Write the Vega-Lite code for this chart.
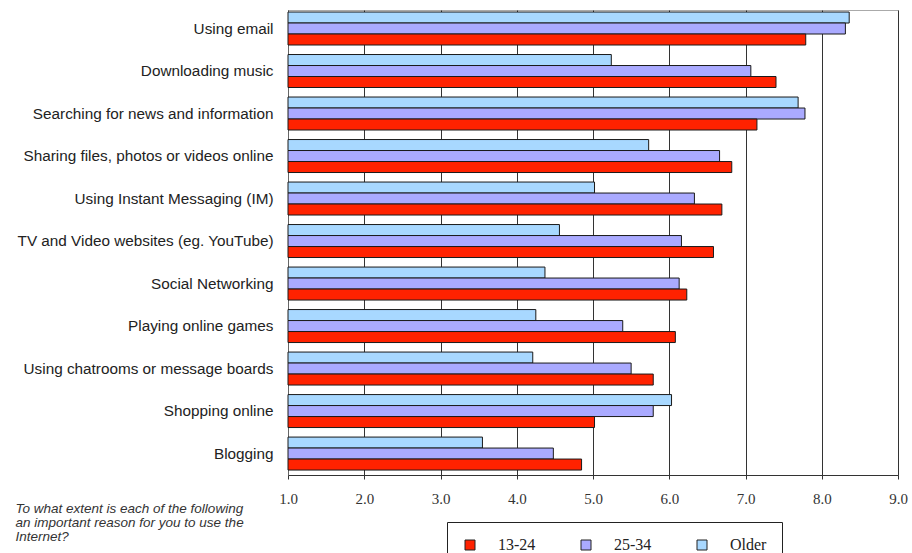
{
  "$schema": "https://vega.github.io/schema/vega-lite/v6.json",
  "width": 610,
  "height": 465,
  "autosize": "none",
  "padding": {"left": 288, "top": 10, "right": 14, "bottom": 78},
  "background": "white",
  "config": {
    "view": {"stroke": "#aaaaaa", "strokeWidth": 1},
    "font": "Liberation Sans"
  },
  "data": {
    "values": [
      {"activity": "Using email", "group": "Older", "value": 8.36},
      {"activity": "Using email", "group": "25-34", "value": 8.31},
      {"activity": "Using email", "group": "13-24", "value": 7.79},
      {"activity": "Downloading music", "group": "Older", "value": 5.24},
      {"activity": "Downloading music", "group": "25-34", "value": 7.07},
      {"activity": "Downloading music", "group": "13-24", "value": 7.40},
      {"activity": "Searching for news and information", "group": "Older", "value": 7.69},
      {"activity": "Searching for news and information", "group": "25-34", "value": 7.78},
      {"activity": "Searching for news and information", "group": "13-24", "value": 7.15},
      {"activity": "Sharing files, photos or videos online", "group": "Older", "value": 5.73},
      {"activity": "Sharing files, photos or videos online", "group": "25-34", "value": 6.66},
      {"activity": "Sharing files, photos or videos online", "group": "13-24", "value": 6.82},
      {"activity": "Using Instant Messaging (IM)", "group": "Older", "value": 5.02},
      {"activity": "Using Instant Messaging (IM)", "group": "25-34", "value": 6.33},
      {"activity": "Using Instant Messaging (IM)", "group": "13-24", "value": 6.69},
      {"activity": "TV and Video websites (eg. YouTube)", "group": "Older", "value": 4.56},
      {"activity": "TV and Video websites (eg. YouTube)", "group": "25-34", "value": 6.16},
      {"activity": "TV and Video websites (eg. YouTube)", "group": "13-24", "value": 6.58},
      {"activity": "Social Networking", "group": "Older", "value": 4.37},
      {"activity": "Social Networking", "group": "25-34", "value": 6.13},
      {"activity": "Social Networking", "group": "13-24", "value": 6.23},
      {"activity": "Playing online games", "group": "Older", "value": 4.25},
      {"activity": "Playing online games", "group": "25-34", "value": 5.39},
      {"activity": "Playing online games", "group": "13-24", "value": 6.08},
      {"activity": "Using chatrooms or message boards", "group": "Older", "value": 4.21},
      {"activity": "Using chatrooms or message boards", "group": "25-34", "value": 5.50},
      {"activity": "Using chatrooms or message boards", "group": "13-24", "value": 5.79},
      {"activity": "Shopping online", "group": "Older", "value": 6.03},
      {"activity": "Shopping online", "group": "25-34", "value": 5.79},
      {"activity": "Shopping online", "group": "13-24", "value": 5.02},
      {"activity": "Blogging", "group": "Older", "value": 3.55},
      {"activity": "Blogging", "group": "25-34", "value": 4.48},
      {"activity": "Blogging", "group": "13-24", "value": 4.85}
    ]
  },
  "mark": {"type": "bar", "stroke": "#1a1a1a", "strokeWidth": 1},
  "encoding": {
    "y": {
      "field": "activity",
      "type": "nominal",
      "sort": null,
      "scale": {"paddingInner": 0.224, "paddingOuter": 0.082, "align": 0.29},
      "axis": {
        "title": null,
        "labelFont": "Liberation Sans",
        "labelFontSize": 15.3,
        "labelColor": "#222222",
        "labelLimit": 300,
        "labelPadding": 15,
        "ticks": false,
        "domainColor": "#666666",
        "domainWidth": 1
      }
    },
    "yOffset": {
      "field": "group",
      "type": "nominal",
      "sort": ["Older", "25-34", "13-24"],
      "scale": {"paddingInner": 0, "paddingOuter": 0}
    },
    "x": {
      "field": "value",
      "type": "quantitative",
      "scale": {"domain": [1, 9], "nice": false, "zero": false},
      "axis": {
        "values": [1, 2, 3, 4, 5, 6, 7, 8, 9],
        "format": ".1f",
        "labelFont": "Liberation Serif",
        "labelFontSize": 15,
        "labelColor": "#333333",
        "labelPadding": 12,
        "labelFlush": false,
        "ticks": true,
        "tickSize": 4,
        "tickColor": "#333333",
        "domainColor": "#333333",
        "grid": true,
        "gridColor": "#333333",
        "gridWidth": 1,
        "gridOpacity": 1,
        "title": ["To what extent is each of the following", "an important reason for you to use the", "Internet?"],
        "titleX": -273,
        "titleY": 26,
        "titleAlign": "left",
        "titleBaseline": "top",
        "titleAngle": 0,
        "titleFont": "Liberation Sans",
        "titleFontStyle": "italic",
        "titleFontWeight": "normal",
        "titleFontSize": 13.5,
        "titleColor": "#333333",
        "titleLineHeight": 14
      }
    },
    "x2": {"datum": 1},
    "fill": {
      "field": "group",
      "type": "nominal",
      "scale": {
        "domain": ["13-24", "25-34", "Older"],
        "range": ["#ff2200", "#aaaaff", "#a8d8ff"]
      },
      "legend": {
        "title": null,
        "orient": "none",
        "direction": "horizontal",
        "legendX": 159,
        "legendY": 512,
        "strokeColor": "#222222",
        "padding": 15,
        "symbolType": "square",
        "symbolSize": 100,
        "symbolStrokeColor": "#222222",
        "symbolStrokeWidth": 1,
        "symbolOpacity": 1,
        "labelFont": "Liberation Serif",
        "labelFontSize": 16,
        "labelColor": "#222222",
        "labelOffset": 20,
        "columnPadding": 42
      }
    }
  }
}
